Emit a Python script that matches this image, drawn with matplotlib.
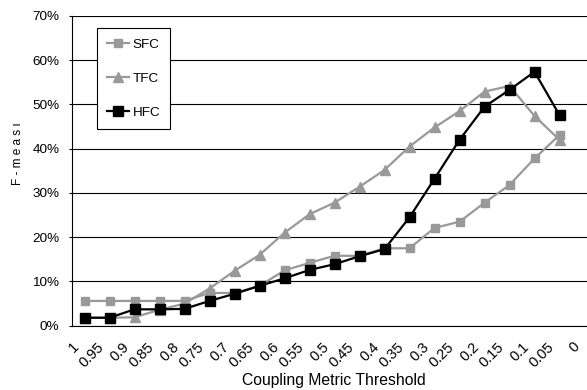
import matplotlib.pyplot as plt
from matplotlib.ticker import FuncFormatter, FixedLocator

plt.rcParams['font.family'] = ['Liberation Sans', 'DejaVu Sans']

# Data
thresholds = ['1', '0.95', '0.9', '0.85', '0.8', '0.75', '0.7', '0.65', '0.6', '0.55',
              '0.5', '0.45', '0.4', '0.35', '0.3', '0.25', '0.2', '0.15', '0.1', '0.05', '0']
sfc = [5.6, 5.6, 5.6, 5.6, 5.6, 7.4, 7.4, 9.0, 12.5, 14.2,
       15.8, 15.8, 17.5, 17.5, 22.1, 23.5, 27.8, 31.8, 37.8, 43.1]
tfc = [1.8, 1.8, 1.9, 3.6, 5.0, 8.4, 12.4, 16.0, 21.0, 25.2,
       27.8, 31.4, 35.2, 40.5, 44.8, 48.5, 52.9, 54.2, 47.4, 42.0]
hfc = [1.8, 1.8, 3.7, 3.7, 3.8, 5.6, 7.2, 9.0, 10.7, 12.6,
       13.9, 15.7, 17.3, 24.5, 33.2, 42.0, 49.5, 53.3, 57.4, 47.6]

gray = '#999999'

fig = plt.figure(figsize=(5.87, 3.90), dpi=100)
W, H = 587, 390
ax = fig.add_axes([72 / W, (H - 325.7) / H, 525 / W, 309.7 / H])

x = range(len(sfc))
ax.plot(x, sfc, color=gray, lw=1.6, marker='s', ms=5.2, label='SFC', zorder=3)
ax.plot(x, tfc, color=gray, lw=1.6, marker='^', ms=6.5, label='TFC', zorder=3)
ax.plot(x, hfc, color='black', lw=1.6, marker='s', ms=7.5, label='HFC', zorder=4)

ax.set_xlim(-0.5, len(thresholds) - 0.5)
ax.set_ylim(0, 70)
ax.set_yticks(range(0, 71, 10))
ax.yaxis.set_major_formatter(FuncFormatter(lambda v, p: f'{int(v)}%'))
ax.yaxis.grid(True, color='black', lw=0.8)
ax.set_axisbelow(True)

# category labels: rotated, their end a little left of each category centre
ax.set_xticks([i - 0.5 for i in range(len(thresholds))])
ax.set_xticklabels(thresholds, rotation=45, ha='right', va='top', rotation_mode='anchor')
ax.xaxis.set_minor_locator(FixedLocator([i - 0.5 for i in range(len(thresholds) + 1)]))
ax.tick_params(axis='x', which='major', length=0, pad=10, labelsize=10.5)
ax.tick_params(axis='x', which='minor', length=3, width=0.8, direction='out')
ax.tick_params(axis='y', length=2.5, width=0.8, labelsize=9.7, pad=6.5)

for side in ['top', 'right']:
    ax.spines[side].set_visible(False)
for side in ['left', 'bottom']:
    ax.spines[side].set_linewidth(0.8)

fig.text(334 / W, 1 - 385 / H, 'Coupling Metric Threshold', ha='center', va='baseline', fontsize=11.3)
fig.text(18.5 / W, 1 - 154 / H, 'F - m e a s ı', rotation=90, ha='center', va='center', fontsize=8.5)

leg = ax.legend(loc='upper left', bbox_to_anchor=((97 - 72) / 525, (325.7 - 28) / 309.7),
                frameon=True, fancybox=False, edgecolor='black', framealpha=1,
                fontsize=9.7, labelspacing=1.6, handlelength=1.6, handletextpad=0.3,
                borderpad=0.75, borderaxespad=0)
leg.get_frame().set_linewidth(0.8)

fig.savefig('out.png', dpi=100)
